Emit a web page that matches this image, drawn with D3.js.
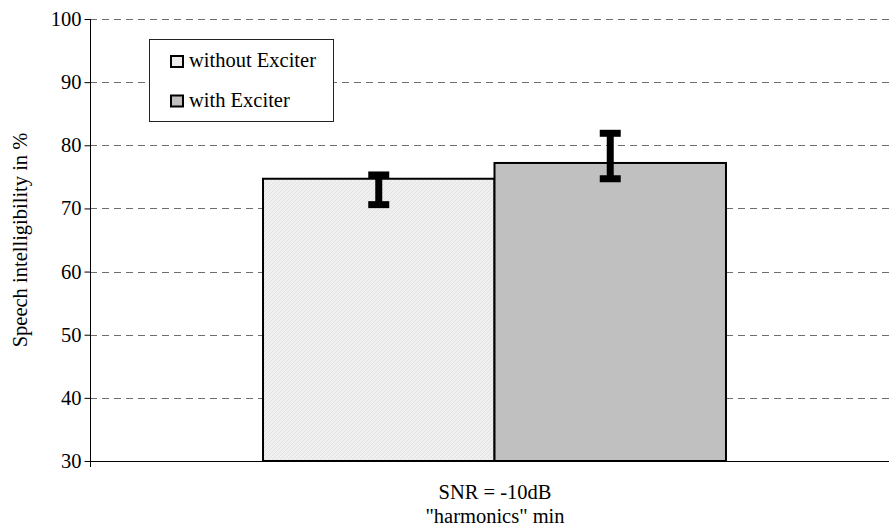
<!DOCTYPE html>
<html>
<head>
<meta charset="utf-8">
<script src="https://cdn.jsdelivr.net/npm/d3@7"></script>
</head>
<body style="margin:0">
<svg id="chart" width="889" height="529"></svg>
<script>
// ---- data ----
const categories = ["SNR = -10dB\n\"harmonics\" min"];
const seriesNames = ["without Exciter", "with Exciter"];
const meanValues = [74.7, 77.2];
const errLower = [70.6, 74.7];
const errUpper = [75.3, 81.9];
const yTickValues = [30, 40, 50, 60, 70, 80, 90, 100];
const yLabel = "Speech intelligibility in %";

// ---- layout ----
const plot = { left: 90, right: 899, top: 19, bottom: 461 };
const fontSize = 20.5;
const serifFamily = "'Liberation Serif', 'Times New Roman', Tinos, serif";

const svg = d3.select("#chart");

function styleText(sel) {
  return sel.attr("font-size", fontSize)
    .style("font-family", serifFamily, "important")
    .style("font-size", fontSize + "px", "important")
    .attr("fill", "#000");
}

const defs = svg.append("defs");
const pat = defs.append("pattern")
  .attr("id", "hatch").attr("patternUnits", "userSpaceOnUse")
  .attr("width", 4).attr("height", 4);
pat.append("rect").attr("width", 4).attr("height", 4).attr("fill", "#f0f0f0");
pat.append("path").attr("d", "M-1,1 l2,-2 M0,4 l4,-4 M3,5 l2,-2")
  .attr("stroke", "#e2e2e2").attr("stroke-width", 1);

const fills = ["url(#hatch)", "#c0c0c0"];
const swatchFills = ["#ececec", "#c0c0c0"];

const y = d3.scaleLinear().domain([30, 100]).range([plot.bottom, plot.top]);
const x0 = d3.scaleBand().domain(categories).range([plot.left, plot.right])
  .paddingInner(0).paddingOuter(0.3737);
const x1 = d3.scaleBand().domain(seriesNames).range([0, x0.bandwidth()]).padding(0);

// gridlines
svg.append("g").selectAll("line").data(yTickValues.filter(v => v > 30))
  .join("line")
  .attr("x1", plot.left).attr("x2", plot.right)
  .attr("y1", d => Math.round(y(d)) + 0.5).attr("y2", d => Math.round(y(d)) + 0.5)
  .attr("stroke", "#6e6e6e").attr("stroke-width", 1)
  .attr("stroke-dasharray", "7,5");

// bars
const data = seriesNames.map((s, i) => ({ s, i, v: meanValues[i], lo: errLower[i], hi: errUpper[i], c: categories[0] }));
svg.append("g").selectAll("rect").data(data).join("rect")
  .attr("x", d => x0(d.c) + x1(d.s))
  .attr("y", d => y(d.v))
  .attr("width", x1.bandwidth())
  .attr("height", d => y(30) - y(d.v))
  .attr("fill", d => fills[d.i])
  .attr("stroke", "#000").attr("stroke-width", 2);

// error bars
const capW = 21, ebW = 7;
const eb = svg.append("g").attr("stroke", "#000").attr("stroke-width", ebW);
data.forEach(d => {
  const cx = x0(d.c) + x1(d.s) + x1.bandwidth() / 2;
  eb.append("line").attr("x1", cx).attr("x2", cx).attr("y1", y(d.hi)).attr("y2", y(d.lo));
  eb.append("line").attr("x1", cx - capW / 2).attr("x2", cx + capW / 2).attr("y1", y(d.hi)).attr("y2", y(d.hi));
  eb.append("line").attr("x1", cx - capW / 2).attr("x2", cx + capW / 2).attr("y1", y(d.lo)).attr("y2", y(d.lo));
});

// y axis
const yAxis = d3.axisLeft(y).tickValues(yTickValues).tickSize(6).tickPadding(3).tickSizeOuter(0);
const ya = svg.append("g").attr("transform", `translate(${plot.left + 0.5},0)`).call(yAxis);
ya.attr("font-family", null).attr("font-size", null);
ya.select(".domain").attr("stroke", "#000").attr("d", `M0,${plot.top}V${plot.bottom + 6}`);
ya.selectAll(".tick line").attr("stroke", "#000");
styleText(ya.selectAll(".tick text"));

// x axis line
svg.append("line").attr("x1", plot.left).attr("x2", plot.right)
  .attr("y1", plot.bottom + 0.5).attr("y2", plot.bottom + 0.5)
  .attr("stroke", "#000").attr("stroke-width", 1);

// x category label
const xl = styleText(svg.append("text").attr("text-anchor", "middle"));
categories[0].split("\n").forEach((t, k) => {
  xl.append("tspan").attr("x", x0(categories[0]) + x0.bandwidth() / 2 + 0.5)
    .attr("y", 499 + k * 24).text(t);
});

// y label
styleText(svg.append("text").attr("text-anchor", "middle"))
  .attr("transform", "translate(27,240) rotate(-90)").text(yLabel);

// legend
const lg = svg.append("g");
lg.append("rect").attr("x", 149.5).attr("y", 39.5).attr("width", 184).attr("height", 82)
  .attr("fill", "#fff").attr("stroke", "#222").attr("stroke-width", 1);
seriesNames.forEach((s, i) => {
  const yy = 56 + i * 39.5;
  lg.append("rect").attr("x", 171).attr("y", yy).attr("width", 12).attr("height", 11)
    .attr("fill", swatchFills[i]).attr("stroke", "#000").attr("stroke-width", 2);
  styleText(lg.append("text").attr("x", 189).attr("y", yy + 11)).text(s);
});
</script>
</body>
</html>
